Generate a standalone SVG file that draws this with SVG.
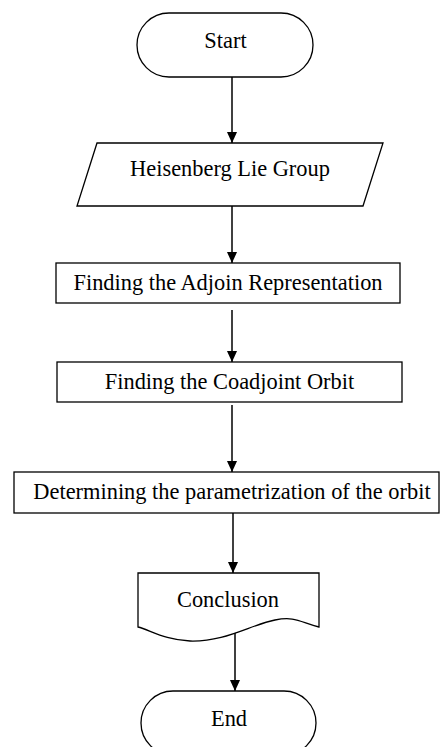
<svg xmlns="http://www.w3.org/2000/svg" width="440" height="747" viewBox="0 0 440 747">
<defs>
<style>
.shape{fill:#fff;stroke:#000;stroke-width:1.3}
.lbl{font-family:"Liberation Serif","Times New Roman",serif;font-size:22.4px;fill:#000;text-anchor:middle}
.conn{fill:none;stroke:#000;stroke-width:1.5}
</style>
<marker id="ah" markerUnits="userSpaceOnUse" markerWidth="11" markerHeight="12" refX="12" refY="5.5" orient="auto" viewBox="0 0 12 11">
<path d="M0,0 L12,5.5 L0,11 z" fill="#000"/>
</marker>
</defs>
<rect width="440" height="747" fill="#fff"/>
<g id="connectors">
<line class="conn" x1="232" y1="77" x2="232" y2="143" marker-end="url(#ah)"/>
<line class="conn" x1="232" y1="206" x2="232" y2="263" marker-end="url(#ah)"/>
<line class="conn" x1="232" y1="310" x2="232" y2="362" marker-end="url(#ah)"/>
<line class="conn" x1="232" y1="405" x2="232" y2="472" marker-end="url(#ah)"/>
<line class="conn" x1="233" y1="513" x2="233" y2="573" marker-end="url(#ah)"/>
<line class="conn" x1="235" y1="630" x2="235" y2="691" marker-end="url(#ah)"/>
</g>
<g id="start">
<rect class="shape" x="137" y="13" width="176" height="64" rx="32" ry="32"/>
<text class="lbl" x="225.5" y="48">Start</text>
</g>
<g id="heisenberg">
<polygon class="shape" points="97,143 383,143 363,206 77,206"/>
<text class="lbl" x="230" y="176">Heisenberg Lie Group</text>
</g>
<g id="adjoin">
<rect class="shape" x="56" y="263" width="344" height="40"/>
<text class="lbl" x="228" y="290">Finding the Adjoin Representation</text>
</g>
<g id="coadjoint">
<rect class="shape" x="57" y="362" width="345" height="40"/>
<text class="lbl" x="229.5" y="389">Finding the Coadjoint Orbit</text>
</g>
<g id="determining">
<rect class="shape" x="14" y="472" width="425" height="41"/>
<text class="lbl" x="232" y="499">Determining the parametrization of the orbit</text>
</g>
<g id="conclusion">
<path class="shape" d="M138,573 L319,573 L319,627 C300,622 295,616 275,620 C250,625 225,642 190,641 C165,640 150,630 138,627 Z"/>
<text class="lbl" x="228" y="607">Conclusion</text>
</g>
<g id="end">
<rect class="shape" x="141" y="691" width="175" height="64" rx="32" ry="32"/>
<text class="lbl" x="229" y="726">End</text>
</g>
</svg>
